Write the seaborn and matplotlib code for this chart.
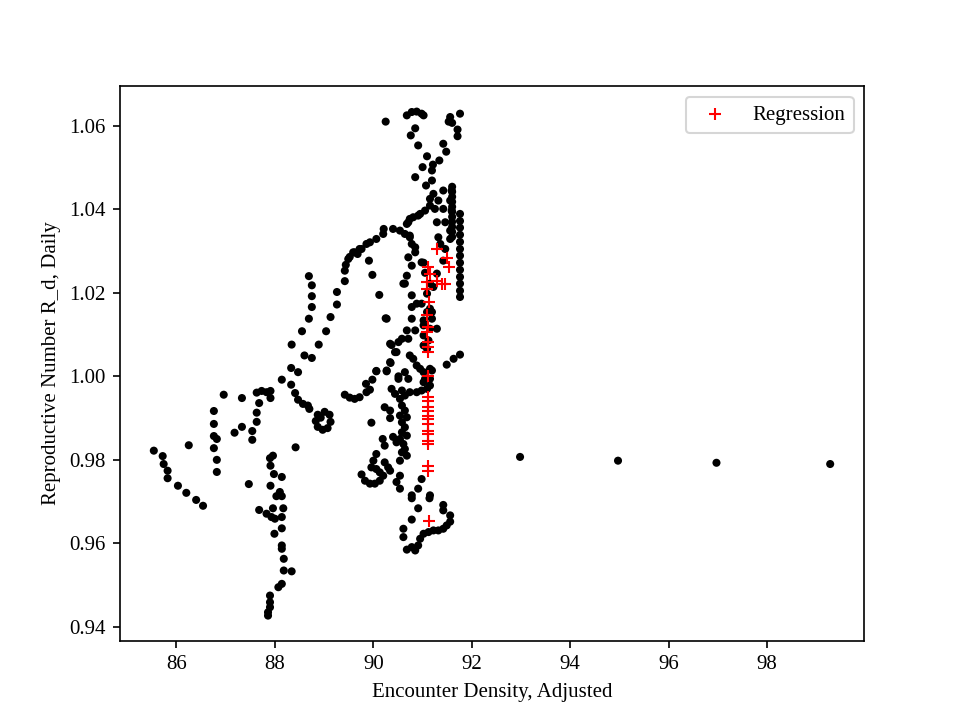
import matplotlib
matplotlib.use("Agg")
import matplotlib.pyplot as plt
import seaborn as sns
import pandas as pd

# ---- data (Encounter Density, Adjusted ; Reproductive Number R_d, Daily) ----
left_x = [85.54, 85.72, 85.74, 85.82, 85.82, 86.03, 86.20, 86.40, 86.54, 86.25,
          86.76, 86.76, 86.76, 86.82, 86.76, 86.82, 86.82, 86.96, 87.33, 87.18,
          87.33, 87.54, 87.54, 87.63, 87.63, 87.68, 87.63, 87.73, 87.83, 87.91,
          87.91, 88.14, 88.33, 88.47, 88.33, 88.41, 88.47, 88.57, 88.67, 88.70,
          88.87, 88.83, 88.87, 88.97, 89.07, 89.13, 89.11, 89.01, 88.93, 88.42]
left_y = [0.9822, 0.9809, 0.9790, 0.9774, 0.9756, 0.9738, 0.9721, 0.9704, 0.9690, 0.9835,
          0.9917, 0.9886, 0.9857, 0.9850, 0.9828, 0.9800, 0.9771, 0.9956, 0.9948, 0.9865,
          0.9879, 0.9869, 0.9848, 0.9891, 0.9913, 0.9936, 0.9961, 0.9965, 0.9962, 0.9965,
          0.9948, 0.9992, 1.0020, 1.0010, 0.9980, 0.9960, 0.9944, 0.9934, 0.9930, 0.9922,
          0.9908, 0.9893, 0.9879, 0.9872, 0.9876, 0.9891, 0.9908, 0.9915, 0.9901, 0.9830]

low_x = [87.96, 87.90, 87.91, 87.98, 88.14, 87.91, 87.47, 88.10, 88.14, 88.03,
         87.68, 87.83, 87.93, 88.00, 87.96, 88.17, 88.14, 88.14, 87.99, 88.14,
         88.14, 88.18, 88.18, 88.34, 88.14, 88.07, 87.90, 87.90, 87.90, 87.86, 87.86]
low_y = [0.9810, 0.9804, 0.9786, 0.9766, 0.9759, 0.9738, 0.9742, 0.9723, 0.9713, 0.9713,
         0.9680, 0.9671, 0.9663, 0.9659, 0.9684, 0.9684, 0.9663, 0.9636, 0.9623, 0.9595,
         0.9587, 0.9563, 0.9535, 0.9533, 0.9503, 0.9495, 0.9475, 0.9459, 0.9447, 0.9435, 0.9427]

arm_x = [88.69, 88.75, 88.75, 88.75, 88.69, 88.55, 88.34, 88.60, 88.75, 88.89,
         89.04, 89.13, 89.26, 89.26, 89.42, 89.42, 89.49, 89.59, 89.72, 89.86,
         89.93, 90.06, 90.20, 90.21, 90.40, 89.52, 89.62, 89.68, 89.76, 89.44,
         89.91, 89.98, 90.12, 90.25, 90.37, 90.47, 90.35, 90.27, 90.06, 89.98,
         89.85, 89.93, 89.86, 89.72, 89.62, 89.52, 89.42]
arm_y = [1.0240, 1.0218, 1.0192, 1.0166, 1.0138, 1.0108, 1.0076, 1.0050, 1.0044, 1.0076,
         1.0108, 1.0142, 1.0172, 1.0202, 1.0228, 1.0253, 1.0281, 1.0297, 1.0305, 1.0317,
         1.0321, 1.0329, 1.0341, 1.0353, 1.0353, 1.0286, 1.0297, 1.0293, 1.0305, 1.0267,
         1.0277, 1.0243, 1.0195, 1.0139, 1.0075, 1.0058, 1.0032, 1.0012, 1.0012, 0.9992,
         0.9982, 0.9968, 0.9962, 0.9950, 0.9946, 0.9949, 0.9956]

top_x = [90.25, 90.68, 90.78, 90.88, 90.98, 91.02, 90.85, 90.76, 90.91, 91.09,
         91.00, 90.85, 91.19, 91.19, 91.07, 91.76, 91.56, 91.53, 91.60, 91.71,
         91.71, 91.42, 91.48, 91.34, 91.21]
top_y = [1.0610, 1.0625, 1.0633, 1.0634, 1.0629, 1.0625, 1.0594, 1.0577, 1.0553, 1.0527,
         1.0501, 1.0477, 1.0493, 1.0469, 1.0457, 1.0629, 1.0621, 1.0610, 1.0607, 1.0591,
         1.0575, 1.0557, 1.0538, 1.0517, 1.0507]

upper_x = [90.54, 90.64, 90.74, 90.71, 90.81, 90.95, 91.05, 91.15, 91.15, 90.78,
           90.85, 90.85, 90.71, 90.78, 90.68, 90.61, 90.78, 90.78, 90.78, 90.68,
           90.58, 90.51, 90.34, 91.22, 91.42, 91.59, 91.32, 91.56, 91.25, 91.42,
           91.59, 90.91, 90.74, 90.68, 91.29, 91.46, 91.56, 91.56, 91.32, 91.36,
           91.46, 90.74, 90.98]
upper_y = [1.0349, 1.0341, 1.0337, 1.0369, 1.0381, 1.0389, 1.0397, 1.0409, 1.0425, 1.0317,
           1.0309, 1.0297, 1.0285, 1.0265, 1.0241, 1.0222, 1.0194, 1.0166, 1.0138, 1.0110,
           1.0090, 1.0082, 1.0078, 1.0437, 1.0445, 1.0445, 1.0421, 1.0421, 1.0401, 1.0401,
           1.0397, 1.0385, 1.0377, 1.0365, 1.0369, 1.0369, 1.0349, 1.0329, 1.0333, 1.0317,
           1.0305, 1.0333, 1.0273]

col_b_x = [91.60] * 11
col_b_y = [1.0454, 1.0442, 1.0430, 1.0418, 1.0406, 1.0394, 1.0382, 1.0370, 1.0358, 1.0346, 1.0334]
col_c_x = [91.76] * 13
col_c_y = [1.0389, 1.0372, 1.0356, 1.0339, 1.0322, 1.0305, 1.0289, 1.0272, 1.0255, 1.0238,
           1.0222, 1.0205, 1.0190]

mid_x = [91.02, 91.42, 91.05, 91.29, 90.64, 91.15, 91.22, 91.09, 90.88, 90.98,
         91.15, 91.09, 91.19, 90.27, 91.02, 91.19, 91.02, 91.15, 90.85, 91.29,
         91.02, 91.12, 90.71, 91.02, 91.09, 90.44, 90.74, 90.81, 90.88, 90.95,
         91.02, 91.15, 91.49, 91.63, 91.76, 90.51]
mid_y = [1.0272, 1.0277, 1.0248, 1.0246, 1.0222, 1.0222, 1.0214, 1.0198, 1.0174, 1.0174,
         1.0162, 1.0154, 1.0154, 1.0138, 1.0134, 1.0138, 1.0122, 1.0114, 1.0110, 1.0114,
         1.0098, 1.0086, 1.0090, 1.0074, 1.0066, 1.0058, 1.0050, 1.0042, 1.0026, 1.0018,
         1.0010, 1.0018, 1.0028, 1.0042, 1.0052, 1.0000]

core_x = [90.34, 90.27, 90.06, 90.64, 90.71, 90.51, 90.37, 90.44, 90.58, 90.64,
          90.74, 90.88, 90.98, 91.09, 91.15, 91.15, 91.19, 91.05, 91.02, 90.54,
          90.58, 90.64, 90.54, 90.68, 90.58, 90.64, 90.58, 90.68, 90.54, 90.61,
          90.64, 90.58, 90.68, 90.54, 90.23, 90.34, 90.34, 89.96, 90.19, 90.23,
          90.40, 90.47, 90.00, 90.06, 89.96, 90.06, 90.13, 90.23, 90.30, 90.34,
          90.20, 89.76, 89.83, 89.93, 90.03, 90.13, 90.54, 90.47, 90.54, 90.98,
          90.91, 90.78, 91.15]
core_y = [1.0034, 1.0014, 1.0013, 1.0010, 0.9994, 0.9994, 0.9970, 0.9958, 0.9966, 0.9954,
          0.9962, 0.9962, 0.9966, 0.9970, 0.9978, 0.9994, 1.0014, 0.9994, 0.9986, 0.9946,
          0.9930, 0.9918, 0.9906, 0.9902, 0.9890, 0.9878, 0.9866, 0.9858, 0.9850, 0.9838,
          0.9826, 0.9818, 0.9810, 0.9798, 0.9926, 0.9918, 0.9900, 0.9889, 0.9850, 0.9834,
          0.9855, 0.9842, 0.9798, 0.9814, 0.9782, 0.9778, 0.9770, 0.9794, 0.9782, 0.9774,
          0.9762, 0.9765, 0.9750, 0.9743, 0.9743, 0.9750, 0.9762, 0.9747, 0.9731, 0.9754,
          0.9731, 0.9715, 0.9715]

bottom_x = [90.78, 90.91, 91.14, 90.78, 90.61, 90.61, 90.68, 90.78, 90.85, 90.91,
            90.95, 91.02, 91.12, 91.22, 91.32, 91.42, 91.49, 91.56, 91.56, 91.42, 91.42]
bottom_y = [0.9708, 0.9684, 0.9708, 0.9657, 0.9635, 0.9615, 0.9585, 0.9591, 0.9583, 0.9595,
            0.9611, 0.9623, 0.9627, 0.9631, 0.9631, 0.9635, 0.9643, 0.9652, 0.9667, 0.9679, 0.9692]

far_x = [92.98, 94.97, 96.97, 99.28]
far_y = [0.9807, 0.9798, 0.9793, 0.9790]

reg_x = [91.29, 91.49, 91.53, 91.12, 91.15, 91.29, 91.39, 91.46, 91.09, 91.09,
         91.14, 91.09, 91.11, 91.09, 91.12, 91.12, 91.12, 91.12, 91.12, 91.12,
         91.12, 91.12, 91.12, 91.12, 91.12, 91.12, 91.12, 91.12, 91.12, 91.12,
         91.12, 91.13]
reg_y = [1.0305, 1.0283, 1.0263, 1.0262, 1.0246, 1.0228, 1.0222, 1.0222, 1.0227, 1.0210,
         1.0178, 1.0146, 1.0118, 1.0106, 1.0082, 1.0070, 1.0058, 1.0002, 0.9950, 0.9942,
         0.9926, 0.9918, 0.9906, 0.9898, 0.9886, 0.9870, 0.9862, 0.9846, 0.9838, 0.9786,
         0.9774, 0.9653]

# ---- figure ----
plt.rcParams['font.family'] = ['Liberation Serif', 'DejaVu Serif']
plt.rcParams['font.size'] = 10

obs = pd.DataFrame({
    'x': left_x + low_x + arm_x + top_x + upper_x + col_b_x + col_c_x + mid_x + core_x + bottom_x + far_x,
    'y': left_y + low_y + arm_y + top_y + upper_y + col_b_y + col_c_y + mid_y + core_y + bottom_y + far_y,
})
reg = pd.DataFrame({'x': reg_x, 'y': reg_y})

fig, ax = plt.subplots(figsize=(6.4, 4.8), dpi=150)
sns.scatterplot(data=obs, x='x', y='y', color='black', s=15, edgecolor='none', ax=ax)
sns.scatterplot(data=reg, x='x', y='y', color='red', marker='+', s=36, linewidth=1.0,
                label='Regression', ax=ax)
ax.set_xlabel('Encounter Density, Adjusted')
ax.set_ylabel('Reproductive Number R_d, Daily')
ax.legend(loc='upper right')
fig.savefig('out.png', dpi=150)
